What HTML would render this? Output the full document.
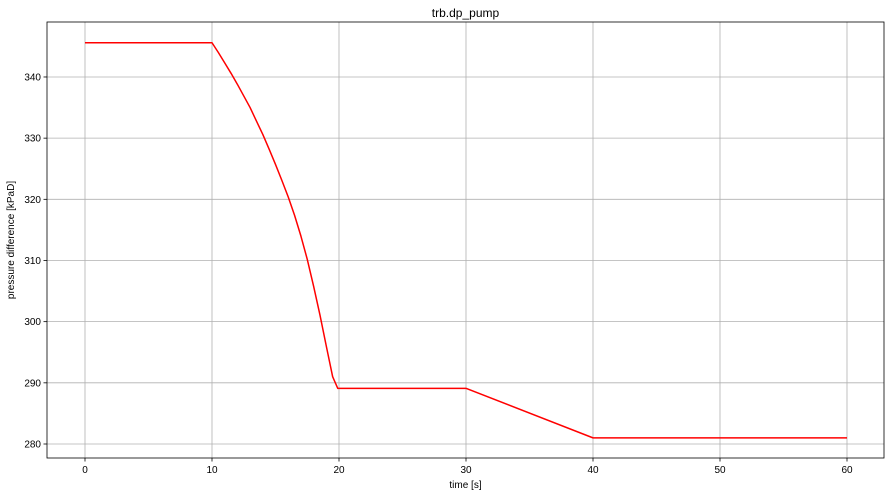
<!DOCTYPE html>
<html><head><meta charset="utf-8"><style>
body{margin:0;background:#fff;width:891px;height:496px;overflow:hidden;font-family:"Liberation Sans",sans-serif}
</style></head><body>
<svg id="chart" width="891" height="496" xmlns="http://www.w3.org/2000/svg" font-family="Liberation Sans, sans-serif">
<rect width="891" height="496" fill="#fff"/>
<text x="465.5" y="17" font-size="12" text-anchor="middle">trb.dp_pump</text>
<g id="grid"></g>
<g id="ticks"></g>
<polyline id="line" fill="none" stroke="red" stroke-width="1.5" stroke-linejoin="round"/>
<rect x="47" y="22" width="837" height="436" fill="none" stroke="#000" stroke-width="0.8"/>
<text x="465.5" y="488" font-size="10" text-anchor="middle">time [s]</text>
<text transform="translate(14,240) rotate(-90)" font-size="10" text-anchor="middle">pressure difference [kPaD]</text>
</svg>
<script>
const times=[0,10,10.5,11,11.5,12,12.5,13,13.5,14,14.5,15,15.5,16,16.5,17,17.5,18,18.5,19,19.5,19.9,20,30,40,60];
const values=[345.6,345.6,344.0,342.3,340.6,338.8,336.9,335.0,332.8,330.6,328.2,325.7,323.1,320.4,317.4,314.0,310.2,305.8,301.1,296.0,291.0,289.1,289.1,289.1,281.0,281.0];
const xTicks=[0,10,20,30,40,50,60];
const yTicks=[280,290,300,310,320,330,340];
const X=t=>85+t*12.7;
const Y=v=>444-(v-280)*6.117;
const ns="http://www.w3.org/2000/svg";
const grid=document.getElementById('grid'),ticks=document.getElementById('ticks');
function mk(tag,attrs,parent){const e=document.createElementNS(ns,tag);for(const k in attrs)e.setAttribute(k,attrs[k]);parent.appendChild(e);return e;}
xTicks.forEach(t=>{
 const g=mk('line',{x1:X(t),x2:X(t),y1:22,y2:458,stroke:'#b0b0b0','stroke-width':0.8},grid);
 
 
 mk('line',{x1:X(t),x2:X(t),y1:458,y2:461.5,stroke:'#000','stroke-width':0.8},ticks);
 const tx=mk('text',{x:X(t),y:473,'font-size':10,'text-anchor':'middle'},ticks);
 tx.textContent=t;
 
 
});
yTicks.forEach(v=>{
 const g=mk('line',{x1:47,x2:884,y1:Y(v),y2:Y(v),stroke:'#b0b0b0','stroke-width':0.8},grid);
 
 
 mk('line',{x1:43.5,x2:47,y1:Y(v),y2:Y(v),stroke:'#000','stroke-width':0.8},ticks);
 const tx=mk('text',{x:41,y:Y(v)+3.5,'font-size':10,'text-anchor':'end'},ticks);
 tx.textContent=v;
 
 
});
document.getElementById('line').setAttribute('points',times.map((t,i)=>X(t)+','+Y(values[i])).join(' '));
</script>
</body></html>
